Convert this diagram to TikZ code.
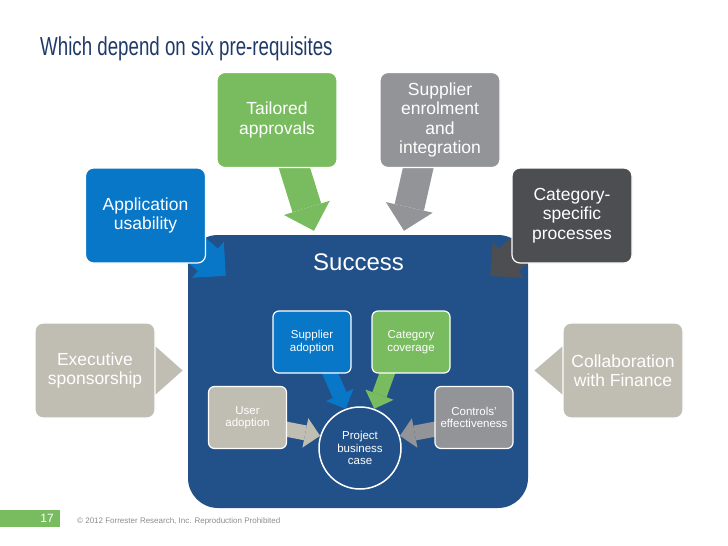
\documentclass[tikz,border=0pt]{standalone}
\usepackage{graphicx}
\usepackage{fontspec}
\setmainfont{Liberation Sans}
\usetikzlibrary{arrows.meta,backgrounds,calc}

\definecolor{titleblue}{RGB}{31,58,104}
\definecolor{successblue}{RGB}{34,81,137}
\definecolor{appblue}{RGB}{8,119,199}
\definecolor{leafgreen}{RGB}{121,188,96}
\definecolor{midgrey}{RGB}{147,148,152}
\definecolor{darkgrey}{RGB}{77,78,82}
\definecolor{stone}{RGB}{192,189,179}
\definecolor{notegrey}{RGB}{140,140,140}

\tikzset{
  bigbox/.style={draw=white, line width=1.2pt, rounded corners=8pt, text=white,
    minimum width=120pt, minimum height=95pt, inner sep=0pt, align=center,
    font=\fontsize{17.5}{19.5}\selectfont},
  smallbox/.style={draw=white, line width=1.2pt, rounded corners=6pt, text=white,
    minimum width=78pt, minimum height=62pt, inner sep=0pt, align=center,
    font=\fontsize{11.5}{12.5}\selectfont},
  fatarrow/.style={line width=30pt, -{Triangle[length=24pt,width=48pt,line width=0pt]}},
  slimarrow/.style={line width=15pt, -{Triangle[length=15pt,width=30pt,line width=0pt]}}
}

\begin{document}
\begin{tikzpicture}[x=1pt,y=-1pt]

    \useasboundingbox (0,0) rectangle (728,546);

    % Title
    \node[anchor=base west, text=titleblue, font=\fontsize{26}{30}\selectfont, inner sep=0pt]
        (title) at (40,55) {\scalebox{0.72}[1]{Which depend on six pre-requisites}};

    % Six pre-requisites
    \node[bigbox, fill=appblue]   (app)     at (145.5,215.5) {Application\\usability};
    \node[bigbox, fill=leafgreen] (tail)    at (277,120)     {Tailored\\approvals};
    \node[bigbox, fill=midgrey]   (supp)    at (440,120)     {Supplier\\enrolment\\and\\integration};
    \node[bigbox, fill=darkgrey]  (catspec) at (572,215.5)   {Category-\\specific\\processes};
    \node[bigbox, fill=stone]     (exec)    at (95,370.5)    {Executive\\sponsorship};
    \node[bigbox, fill=stone]     (collab)  at (623,370.5)   {Collaboration\\with Finance};

    % Side pointers
    \fill[stone] ($(exec.east)+(0,-24)$) -- ($(exec.east)+(27,0)$) -- ($(exec.east)+(0,24)$) -- cycle;
    \fill[stone] ($(collab.west)+(0,-24)$) -- ($(collab.west)+(-28,0)$) -- ($(collab.west)+(0,24)$) -- cycle;

    % Success label
    \node[anchor=base, text=white, font=\fontsize{24}{28}\selectfont, inner sep=0pt]
        (success) at (358.5,270) {Success};

    % Inner boxes
    \node[smallbox, fill=appblue]   (suppadopt) at (312,342)   {Supplier\\adoption};
    \node[smallbox, fill=leafgreen] (catcov)    at (411,342)   {Category\\coverage};
    \node[smallbox, fill=stone]     (useradopt) at (247.5,417.5) {User\\adoption};
    \node[smallbox, fill=midgrey]   (controls)  at (474,417.5) {Controls’\\effectiveness};

    \node[circle, draw=white, line width=1.5pt, minimum size=82pt, inner sep=0pt, align=center,
          text=white, font=\fontsize{11.5}{12.5}\selectfont] (pbc) at (360,448) {Project\\business\\case};

    % Footer
    \fill[leafgreen] (0,510) rectangle (60,527);
    \node[anchor=east, text=white, font=\fontsize{12}{14}\selectfont, inner sep=0pt] (page) at (54,518.5) {17};
    \node[anchor=west, text=notegrey, font=\fontsize{8}{10}\selectfont, inner sep=0pt]
        (copy) at (77,521) {© 2012 Forrester Research, Inc. Reproduction Prohibited};

    \begin{scope}[on background layer]
        % Success box
        \node[fill=successblue, rounded corners=30pt, minimum width=340pt, minimum height=273pt,
              inner sep=0pt] (succ) at (358,371.5) {};

        % Outer arrows
        \draw[fatarrow, appblue]   ($(app.center)+(35,20)$)      -- ($(succ.north west)+(38,41)$);
        \draw[fatarrow, leafgreen] ($(tail.south)+(15,-8)$)      -- ($(succ.north)+(-44,-4)$);
        \draw[fatarrow, midgrey]   ($(supp.south)+(-20,-8)$)     -- ($(succ.north)+(46,-4)$);
        \draw[fatarrow, darkgrey]  ($(catspec.center)+(-35,20)$) -- ($(succ.north east)+(-38,41)$);

        % Inner arrows
        \draw[slimarrow, appblue]   ($(suppadopt.south)+(16,-5)$) -- (pbc.110);
        \draw[slimarrow, leafgreen] ($(catcov.south)+(-22,-5)$)   -- (pbc.70);
        \draw[slimarrow, stone]     ($(useradopt.east)+(-4,11)$)  -- (pbc.163);
        \draw[slimarrow, midgrey]   ($(controls.west)+(4,11)$)    -- (pbc.17);
    \end{scope}

\end{tikzpicture}
\end{document}
